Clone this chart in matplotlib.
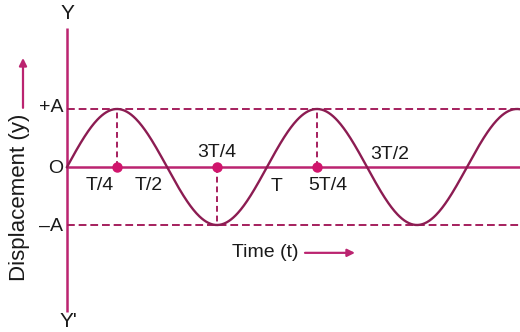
import numpy as np
import matplotlib
matplotlib.use("Agg")
import matplotlib.pyplot as plt

# ---- data (time in units of T, displacement in units of A) ----
amplitude = 1.0
period = 1.0
t_end = 2.265
marker_times = [0.25, 0.75, 1.25]          # T/4, 3T/4, 5T/4
x_labels = ["T/4", "T/2", "3T/4", "T", "5T/4", "3T/2"]
x_label_pos = [0.165, 0.41, 0.75, 1.05, 1.305, 1.615]
x_label_y = [-0.32, -0.32, 0.25, -0.336, -0.32, 0.21]
y_labels = ["+A", "O", "\u2013A"]
y_label_vals = [1.03, -0.03, -1.03]

AX = "#bb2470"
CURVE = "#8c1c52"
DASH = "#a51f5d"
DOT = "#d0146c"
TXT = "#1a1a1a"

plt.rcParams["font.family"] = ["Liberation Sans", "DejaVu Sans"]

fig = plt.figure(figsize=(5.2, 3.32), dpi=100)
ax = fig.add_axes([0, 0, 1, 1])
ax.set_xlim(-0.335, 2.265)
ax.set_ylim(-165 / 58, 167 / 58)
ax.axis("off")

# axes
ax.plot([0, 0], [-2.5, 2.397], color=AX, lw=1.8, solid_capstyle="butt")
ax.plot([0, t_end], [0, 0], color=AX, lw=1.8)

# dashed amplitude lines
ax.plot([0, t_end], [amplitude, amplitude], color=DASH, lw=1.4, ls=(0, (4, 2)))
ax.plot([0, t_end], [-amplitude, -amplitude], color=DASH, lw=1.4, ls=(0, (4, 2)))

# sine curve
t = np.linspace(0, t_end, 600)
y = amplitude * np.sin(2 * np.pi * t / period)
ax.plot(t, y, color=CURVE, lw=1.7)

# vertical dashed drop lines and dots
for mt in marker_times:
    yv = amplitude * np.sin(2 * np.pi * mt / period)
    ax.plot([mt, mt], [0, yv], color=DASH, lw=1.4, ls=(0, (3, 2)))
ax.plot(marker_times, [0] * len(marker_times), "o", color=DOT, ms=6.5, zorder=5)

# labels
fs = 14
for lab, xp, yp in zip(x_labels, x_label_pos, x_label_y):
    ax.text(xp, yp, lab, ha="center", va="center", fontsize=fs, color=TXT)
for lab, yv in zip(y_labels, y_label_vals):
    ax.text(-0.02, yv, lab, ha="right", va="center", fontsize=fs, color=TXT)

ax.text(0, 2.64, "Y", ha="center", va="center", fontsize=15, color=TXT)
ax.text(0.005, -2.67, "Y'", ha="center", va="center", fontsize=15, color=TXT)

# axis titles with arrows
ax.text(0.99, -1.48, "Time (t)", ha="center", va="center", fontsize=fs, color=TXT)
ax.annotate("", xy=(1.44, -1.48), xytext=(1.19, -1.48),
            arrowprops=dict(arrowstyle="-|>", color=AX, lw=1.6,
                            mutation_scale=11, shrinkA=0, shrinkB=0))
ax.text(-0.24, -0.526, "Displacement (y)", ha="center", va="center",
        rotation=90, fontsize=16, color=TXT)
ax.annotate("", xy=(-0.22, 1.88), xytext=(-0.22, 1.02),
            arrowprops=dict(arrowstyle="-|>", color=AX, lw=1.6,
                            mutation_scale=11, shrinkA=0, shrinkB=0))

fig.savefig("out.png", dpi=100)
